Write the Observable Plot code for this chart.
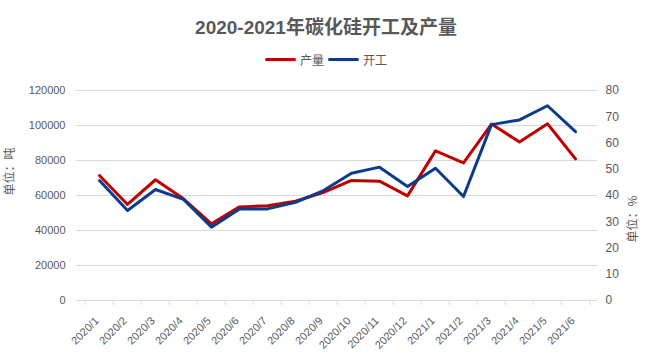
<!DOCTYPE html>
<html>
<head>
<meta charset="utf-8">
<script src="https://cdn.jsdelivr.net/npm/d3@7"></script>
<script src="https://cdn.jsdelivr.net/npm/@observablehq/plot@0.6"></script>
<style>
  body { margin: 0; background: #fff; font-family: "Liberation Sans", Arial, "Noto Sans CJK SC", sans-serif; }
  #wrap { width: 652px; height: 358px; position: relative; overflow: hidden; }
  #title { position: absolute; top: 12px; left: 0; width: 652px; text-align: center; font-size: 19px; font-weight: bold; color: #595959; font-family: "Liberation Sans", Arial, "Noto Sans CJK SC", sans-serif; }
  #legend { position: absolute; top: 51px; left: 0; width: 652px; display: flex; justify-content: center; align-items: center; font-size: 12px; color: #595959; font-family: "Noto Sans CJK SC", sans-serif; }
  #legend .item { display: flex; align-items: center; margin: 0 2px; }
  #legend .sw { width: 31px; height: 3px; border-radius: 2px; margin-right: 4px; }
  #chart { position: absolute; top: 75px; left: 0; }
</style>
</head>
<body>
<div id="wrap">
  <div id="title"></div>
  <div id="legend"></div>
  <div id="chart"></div>
</div>
<script>
const titleText = "2020-2021年碳化硅开工及产量";
const months = ["2020/1","2020/2","2020/3","2020/4","2020/5","2020/6","2020/7","2020/8","2020/9","2020/10","2020/11","2020/12","2021/1","2021/2","2021/3","2021/4","2021/5","2021/6"];
const output = [71400,54900,69000,58100,43800,53500,54100,56700,61800,68600,68200,59800,85500,78600,100800,90600,101000,80900];
const rate = [45.7,34.3,42.3,38.5,27.9,34.9,34.9,37.4,41.9,48.5,50.8,43.4,50.4,39.6,67.0,68.8,74.2,64.3];
const leftTicks = [0,20000,40000,60000,80000,100000,120000];
const rightTicks = [0,10,20,30,40,50,60,70,80];
const seriesNames = ["产量","开工"];
const seriesColors = ["#C00000","#0B3C8C"];
const axisTitles = ["单位：吨","单位：%"];

document.getElementById("title").textContent = titleText;
const leg = document.getElementById("legend");
seriesNames.forEach((n, i) => {
  const it = document.createElement("div"); it.className = "item";
  const sw = document.createElement("div"); sw.className = "sw"; sw.style.background = seriesColors[i];
  const tx = document.createElement("span"); tx.textContent = n;
  it.appendChild(sw); it.appendChild(tx); leg.appendChild(it);
});

const data = months.map((m, i) => ({month: m, output: output[i], rate: rate[i]}));
const W = 652, H = 283, mL = 76, mR = 55, mT = 15, mB = 58;
const k = leftTicks[leftTicks.length - 1] / rightTicks[rightTicks.length - 1];
const bw = (W - mL - mR) / months.length;

const chart = Plot.plot({
  width: W, height: H,
  marginLeft: mL, marginRight: mR, marginTop: mT, marginBottom: mB,
  style: {fontFamily: "'Liberation Sans', Arial, sans-serif", fontSize: "11px", color: "#595959", background: "#fff"},
  x: {type: "band", domain: months, padding: 0},
  y: {domain: [0, leftTicks[leftTicks.length - 1]]},
  marks: [
    Plot.gridY(leftTicks, {stroke: "#d9d9d9", strokeOpacity: 1}),
    Plot.axisY(leftTicks, {anchor: "left", tickSize: 0, tickPadding: 11, tickFormat: d3.format("d"), label: null, fill: "#595959", fontSize: 11}),
    Plot.axisY(rightTicks.map(v => v * k), {anchor: "right", tickSize: 0, tickPadding: 8, tickFormat: d => d3.format("d")(d / k), label: null, fill: "#595959", fontSize: 12}),
    Plot.axisX(months, {tickSize: 5, stroke: "#d9d9d9", tickFormat: () => "", dx: -bw / 2, label: null}),
    Plot.axisX([months[months.length - 1]], {tickSize: 5, stroke: "#d9d9d9", tickFormat: () => "", dx: bw / 2, label: null}),
    Plot.text(months, {x: d => d, text: d => d, frameAnchor: "bottom", dy: 21, dx: 0, rotate: -45, textAnchor: "end", fill: "#595959", fontSize: 11}),
    Plot.line(data, {x: "month", y: "output", stroke: seriesColors[0], strokeWidth: 3}),
    Plot.line(data, {x: "month", y: d => d.rate * k, stroke: seriesColors[1], strokeWidth: 3}),
    Plot.text([axisTitles[0]], {text: d => d, frameAnchor: "left", dx: -66, rotate: -90, fill: "#595959", fontSize: 12, fontFamily: "'Noto Sans CJK SC', sans-serif"}),
    Plot.text([axisTitles[1]], {text: d => d, frameAnchor: "right", dx: 36, rotate: -90, fill: "#595959", fontSize: 12, fontFamily: "'Noto Sans CJK SC', sans-serif"})
  ]
});
document.getElementById("chart").appendChild(chart);
</script>
</body>
</html>
